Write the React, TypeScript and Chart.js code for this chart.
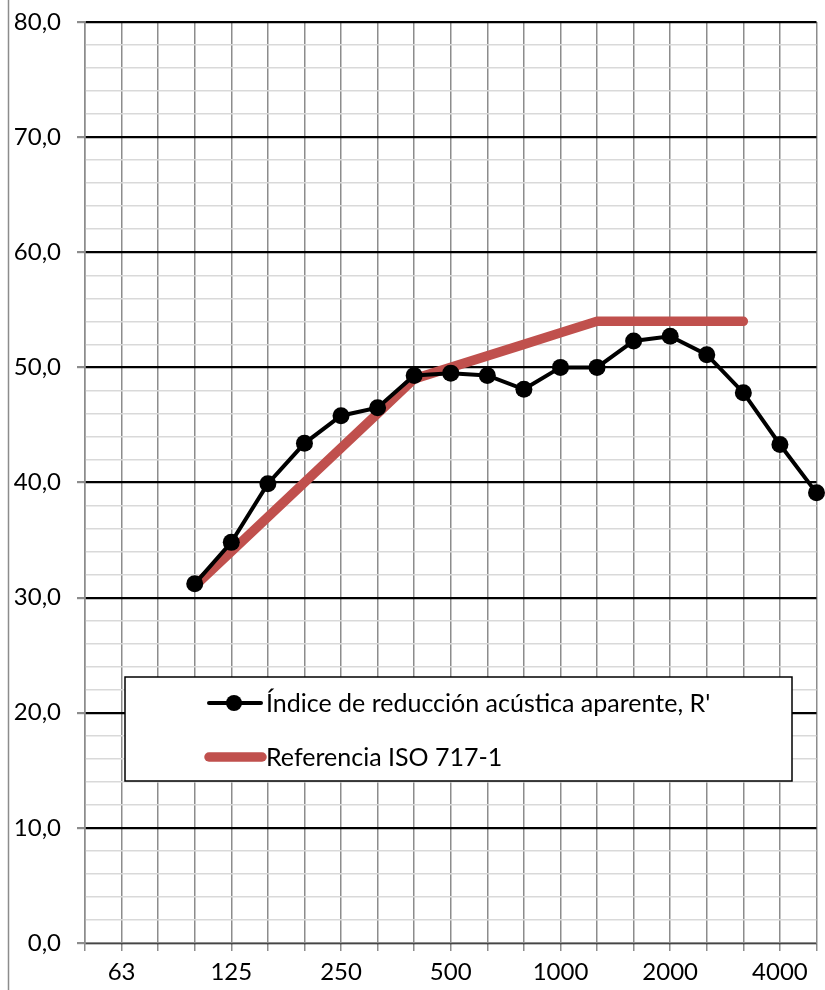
import React, { useEffect, useRef } from "react";
import { Chart, registerables } from "chart.js";
Chart.register(...registerables);

const categories = ["50","63","80","100","125","160","200","250","315","400","500","630","800","1000","1250","1600","2000","2500","3150","4000","5000"];
const shownLabels = ["63","125","250","500","1000","2000","4000"];
const measured = [null,null,null,31.2,34.8,39.9,43.4,45.8,46.5,49.3,49.5,49.3,48.1,50.0,50.0,52.3,52.7,51.1,47.8,43.3,39.1];
const reference = [null,null,null,31,34,37,40,43,46,49,50,51,52,53,54,54,54,54,54,null,null];
const seriesNames = ["Índice de reducción acústica aparente, R'", "Referencia ISO 717-1"];

const FONT = "Lato, 'Open Sans', sans-serif";

const decor = {
  id: "decor",
  beforeDraw(chart: any) {
    const ctx = chart.ctx;
    ctx.save();
    ctx.fillStyle = "#fff";
    ctx.fillRect(0, 0, chart.width, chart.height);
    ctx.strokeStyle = "#8c8c8c";
    ctx.lineWidth = 1.5;
    ctx.beginPath();
    ctx.moveTo(8.5, 0);
    ctx.lineTo(8.5, chart.height);
    ctx.stroke();
    ctx.restore();
  },
  afterDraw(chart: any) {
    const ctx = chart.ctx;
    ctx.save();
    const x0 = 125, y0 = 677, w = 667, h = 104;
    ctx.fillStyle = "#fff";
    ctx.fillRect(x0, y0, w, h);
    ctx.strokeStyle = "#000";
    ctx.lineWidth = 1.5;
    ctx.strokeRect(x0, y0, w, h);
    ctx.lineCap = "round";
    ctx.strokeStyle = "#000";
    ctx.lineWidth = 4;
    ctx.beginPath();
    ctx.moveTo(209, 703);
    ctx.lineTo(261, 703);
    ctx.stroke();
    ctx.fillStyle = "#000";
    ctx.beginPath();
    ctx.arc(234, 703, 8, 0, Math.PI * 2);
    ctx.fill();
    ctx.strokeStyle = "#c0504d";
    ctx.lineWidth = 9.5;
    ctx.beginPath();
    ctx.moveTo(209, 757);
    ctx.lineTo(262, 757);
    ctx.stroke();
    ctx.fillStyle = "#000";
    ctx.font = "25px " + FONT;
    ctx.textBaseline = "middle";
    ctx.textAlign = "left";
    ctx.fillText(seriesNames[0], 266, 704);
    ctx.fillText(seriesNames[1], 266, 758);
    ctx.restore();
  },
};

export default function App() {
  const ref = useRef<HTMLCanvasElement>(null);
  useEffect(() => {
    document.body.style.margin = "0";
    const chart = new Chart(ref.current!, {
      type: "line",
      data: {
        labels: categories,
        datasets: [
          {
            label: seriesNames[1],
            data: reference,
            borderColor: "#c0504d",
            backgroundColor: "#c0504d",
            borderWidth: 9.5,
            pointRadius: 0,
            borderCapStyle: "round",
            borderJoinStyle: "round",
            order: 1,
            clip: false as any,
          },
          {
            label: seriesNames[0],
            data: measured,
            borderColor: "#000",
            backgroundColor: "#000",
            borderWidth: 4,
            pointRadius: 8.5,
            pointBackgroundColor: "#000",
            pointBorderWidth: 0,
            order: 0,
            clip: false as any,
          },
        ],
      },
      options: {
        responsive: false,
        animation: false,
        layout: { padding: { top: 22, right: 7, left: 0, bottom: 0 } },
        plugins: { legend: { display: false }, tooltip: { enabled: false } },
        scales: {
          x: {
            offset: false,
            afterFit(s: any) { s.height = 47; s.paddingLeft = 0; s.paddingRight = 0; },
            grid: {
              color: "#8c8c8c",
              lineWidth: 1.5,
              tickLength: 8,
              drawTicks: true,
            },
            border: { color: "#8c8c8c", width: 1.5 },
            ticks: {
              autoSkip: false,
              maxRotation: 0,
              color: "#000",
              font: { family: FONT, size: 24 },
              padding: 7,
              callback(v: any) {
                const l = categories[v as number];
                return shownLabels.includes(l) ? l : "";
              },
            },
          },
          y: {
            min: 0,
            max: 80,
            afterFit(s: any) { s.width = 85; s.paddingTop = 0; s.paddingBottom = 0; },
            border: { color: "#8c8c8c", width: 1.5 },
            grid: {
              color: (c: any) => (c.tick && c.tick.value % 10 === 0 ? "#000" : "#d9d9d9"),
              lineWidth: (c: any) => (c.tick && c.tick.value % 10 === 0 ? 2.2 : 1.5),
              tickLength: 8,
              tickColor: (c: any) => (c.tick && c.tick.value % 10 === 0 ? "#8c8c8c" : "rgba(0,0,0,0)"),
            },
            ticks: {
              stepSize: 2,
              autoSkip: false,
              color: "#000",
              font: { family: FONT, size: 24 },
              padding: 16,
              callback(v: any) {
                return v % 10 === 0 ? (v as number).toFixed(1).replace(".", ",") : "";
              },
            },
          },
        },
      },
      plugins: [decor],
    });
    return () => chart.destroy();
  }, []);
  return <canvas ref={ref} width={825} height={990} style={{ display: "block" }} />;
}
